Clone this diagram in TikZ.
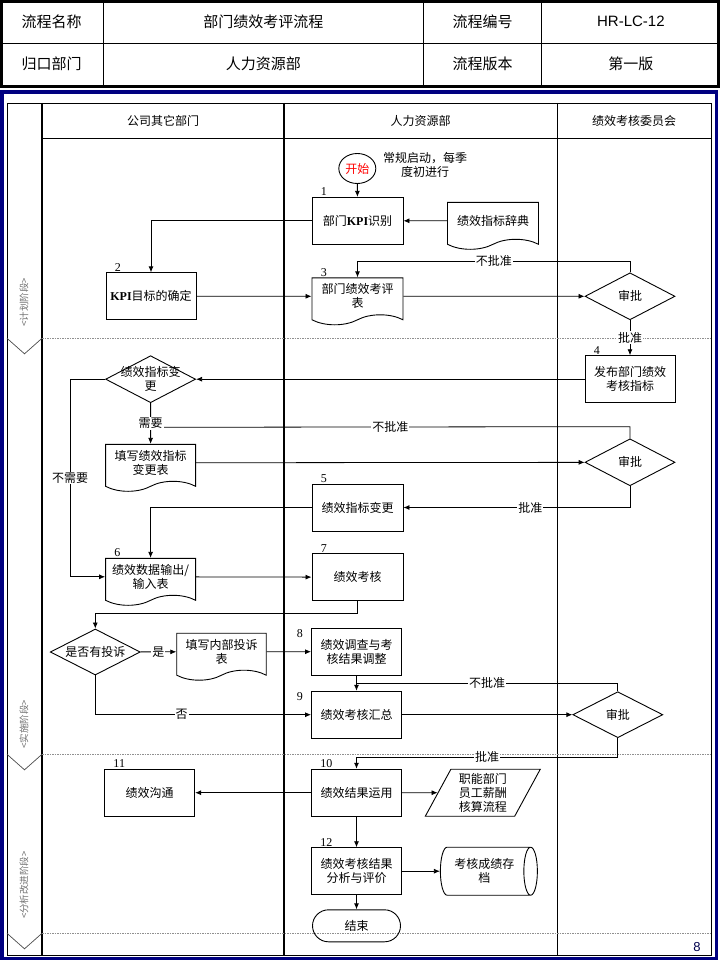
\documentclass[tikz,border=0pt]{standalone}
\usepackage{fontspec}
\setmainfont{Liberation Serif}
\newfontfamily\cjk{Noto Sans CJK SC}
\newfontfamily\hdsans{Liberation Sans}
\usetikzlibrary{shapes.geometric,shapes.symbols,shapes.misc,arrows.meta,calc}
\definecolor{navyframe}{HTML}{000080}
\definecolor{dotgray}{HTML}{909090}
\definecolor{phasegray}{HTML}{707070}
\newcommand\kpi{{\rmfamily\bfseries KPI}}
\tikzset{
  base/.style={draw, line width=0.9pt, align=center, inner sep=1pt, font=\cjk\fontsize{12}{14}\selectfont},
  proc/.style={base, rectangle, minimum width=91pt, minimum height=47pt},
  doc/.style={base, tape, tape bend top=none, tape bend height=10pt, minimum width=91pt, minimum height=47pt},
  decide/.style={base, diamond, minimum width=90pt, minimum height=47pt, label={[dtext]center:#1}},
  dtext/.style={align=center, inner sep=0pt, font=\cjk\fontsize{12}{14}\selectfont},
  numin/.style={label={[num,anchor=south west,xshift=9pt,yshift=1pt]north west:#1}},
  numout/.style={label={[num,anchor=north east,xshift=-8pt,yshift=-2pt]north west:#1}},
  num/.style={inner sep=0pt, font=\fontsize{12}{12}\selectfont},
  lbl/.style={fill=white, inner sep=1pt, font=\cjk\fontsize{12}{12}\selectfont},
  link/.style={line width=0.8pt, -{Latex[length=6pt,width=5pt]}},
  hd/.style={font=\cjk\fontsize{15}{15}\selectfont},
  lane/.style={font=\cjk\fontsize{12}{12}\selectfont},
  phase/.style={rotate=90, text=phasegray, font=\cjk\fontsize{9.5}{10}\selectfont},
  phaseline/.style={dotgray, line width=1pt, dash pattern=on 1.5pt off 1pt}
}
\begin{document}
\begin{tikzpicture}[x=1pt,y=-1pt]
\useasboundingbox (0,0) rectangle (720,960);
\draw[line width=1.3pt] (0,43.3) -- (720,43.3) (103.3,0) -- (103.3,86) (423.3,0) -- (423.3,86) (541.8,0) -- (541.8,86);
\draw[line width=2.6pt] (1.3,1.3) rectangle (718.7,86.3);
\node[hd] (h11) at (51.7,21.5) {流程名称};
\node[hd] (h12) at (263.3,21.5) {部门绩效考评流程};
\node[hd] (h13) at (482.5,21.5) {流程编号};
\node[hd,font=\hdsans\fontsize{15}{15}\selectfont] (h14) at (630.9,21.5) {HR-LC-12};
\node[hd] (h21) at (51.7,64) {归口部门};
\node[hd] (h22) at (263.3,64) {人力资源部};
\node[hd] (h23) at (482.5,64) {流程版本};
\node[hd] (h24) at (630.9,64) {第一版};
\draw[navyframe, line width=3.4pt] (2,92) rectangle (716.5,958.2);

\draw[line width=0.9pt] (7,103) rectangle (711,955.5);
\draw[line width=1.2pt] (42,103) -- (42,955.5) (284,103) -- (284,955.5) (557.5,103) -- (557.5,955.5) (42,138.3) -- (711,138.3);
\foreach \py in {338.3,754.3,933.3}{
  \draw[phaseline] (42,\py) -- (711,\py);
  \draw[black!70, line width=0.7pt] (7,\py) -- (24.5,\py+15.5) -- (42,\py);
}
\node[lane] (l1) at (163,121) {公司其它部门};
\node[lane] (l2) at (420.5,121) {人力资源部};
\node[lane] (l3) at (634,121) {绩效考核委员会};
\node[phase] (p1) at (24,302) {<计划阶段>};
\node[phase] (p2) at (24,724) {<实施阶段>};
\node[phase] (p3) at (24,885) {<分析改进阶段>};

\node[base, ellipse, minimum width=37pt, minimum height=30pt, text=red] (start) at (357.3,168.5) {开始};
\node[align=center, inner sep=0pt, font=\cjk\fontsize{12}{14.5}\selectfont] (note) at (425,165) {常规启动，每季\\度初进行};
\node[proc, numin=1] (box1) at (357.5,220.8) {部门\kpi 识别};
\node[doc] (dict) at (493,220.8) {绩效指标辞典};
\node[proc, minimum width=90pt, numin=2] (box2) at (151,296.3) {\kpi 目标的确定};
\node[doc, numin=3] (doc3) at (357.5,296.3) {部门绩效考评\\表};
\node[decide=审批] (dia1) at (630,296.3) {};
\node[proc, minimum width=90pt, numin=4] (box4) at (630,379.2) {发布部门绩效\\考核指标};
\node[decide={绩效指标变\\更}] (chg) at (150.6,379.2) {};
\node[doc, minimum width=90pt] (fdoc) at (150.6,462.8) {填写绩效指标\\变更表};
\node[decide=审批] (dia2) at (630,462.3) {};
\node[proc, numin=5] (box5) at (357.5,507.5) {绩效指标变更};
\node[doc, minimum width=90pt, numin=6] (inp) at (150.6,576.8) {绩效数据输出/\\输入表};
\node[proc, numin=7] (box7) at (357.5,577.2) {绩效考核};
\node[decide=是否有投诉, minimum height=46pt] (cmp) at (95.3,652) {};
\node[doc, minimum width=89.5pt] (fcomp) at (221.5,651.7) {填写内部投诉\\表};
\node[proc, minimum width=90pt, numout=8] (box8) at (356.5,651.7) {绩效调查与考\\核结果调整};
\node[proc, minimum width=90pt, numout=9] (box9) at (356.5,714.7) {绩效考核汇总};
\node[decide=审批, minimum height=46pt] (dia4) at (617.8,714.7) {};
\node[proc, minimum width=90pt, numin=10] (box10) at (356.5,792.7) {绩效结果运用};
\node[proc, minimum width=90pt, numin=11] (box11) at (149.7,792.7) {绩效沟通};
\node[base, trapezium, trapezium left angle=64, trapezium right angle=116, trapezium stretches=true, minimum width=116pt, minimum height=47pt] (para) at (482.8,792.7) {职能部门\\员工薪酬\\核算流程};
\node[proc, minimum width=90pt, numin=12] (box12) at (356.5,871.2) {绩效考核结果\\分析与评价};
\node[base, cylinder, aspect=0.5, minimum width=48pt, minimum height=97pt] (cyl) at (484.3,871.2) {考核成绩存\\档};
\node[base, rounded rectangle, minimum width=90pt, minimum height=32pt] (fin) at (356.5,925.8) {结束};

\draw[link] (start) -- (box1);
\draw[link] (dict) -- (box1);
\draw[link] (box1.west) -| (box2.north);
\draw[link] (box2) -- (doc3);
\draw[link] (doc3) -- (dia1);
\draw[link] (dia1.north) -- ++(0,-11) -| node[lbl,pos=0.25]{不批准} (doc3.north);
\draw[link] (dia1) -- node[lbl]{批准} (box4);
\draw[link] (box4) -- (chg);
\coordinate (j1) at (150.6,427.3);
\draw[line width=0.8pt] (dia2.north) -- ++(0,-11.7) -- node[lbl]{不批准} (j1);
\draw[link] (chg) -- node[lbl]{需要} (fdoc);
\draw[link] (fdoc) -- (dia2);
\draw[link] (dia2.south) |- node[lbl,pos=0.72]{批准} (box5.east);
\draw[link] (box5.west) -| (inp.north);
\draw[link] (chg.west) -- ++(-35,0) |- node[lbl,pos=0.25]{不需要} (inp.west);
\draw[link] (inp) -- (box7);
\draw[link] (box7.south) -- ++(0,12) -| (cmp.north);
\draw[link] (cmp) -- node[lbl]{是} (fcomp);
\draw[link] (fcomp) -- (box8);
\draw[link] (box8) -- (box9);
\draw[link] (cmp.south) |- node[lbl,pos=0.7]{否} (box9.west);
\draw[link] (box9) -- (dia4);
\coordinate (j2) at ($(box8.south)!0.5!(box9.north)$);
\draw[line width=0.8pt] (dia4.north) |- node[lbl,pos=0.75]{不批准} (j2);
\draw[link] (dia4.south) -- ++(0,19) -| node[lbl,pos=0.25]{批准} (box10.north);
\draw[link] (box10) -- (box11);
\draw[link] (box10) -- (para);
\draw[link] (box10) -- (box12);
\draw[link] (box12) -- (cyl);
\draw[link] (box12) -- (fin);
\node[font=\hdsans\fontsize{13}{13}\selectfont, text=navyframe!60!black] (page) at (697,947) {8};
\end{tikzpicture}
\end{document}
